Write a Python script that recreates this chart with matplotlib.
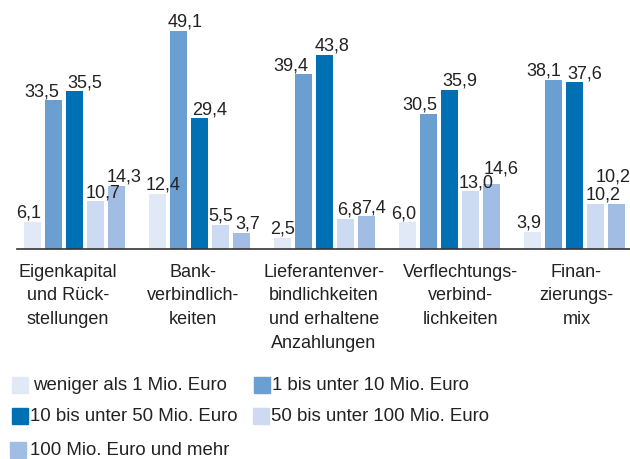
import matplotlib
matplotlib.use("Agg")
import numpy as np
from matplotlib import pyplot as plt
from matplotlib.patches import Rectangle

plt.rcParams['font.family'] = ['Liberation Sans', 'DejaVu Sans']

categories = ["Eigenkapital\nund Rück-\nstellungen",
              "Bank-\nverbindlich-\nkeiten",
              "Lieferantenver-\nbindlichkeiten\nund erhaltene\nAnzahlungen",
              "Verflechtungs-\nverbind-\nlichkeiten",
              "Finan-\nzierungs-\nmix"]

series_names = ["weniger als 1 Mio. Euro",
                "1 bis unter 10 Mio. Euro",
                "10 bis unter 50 Mio. Euro",
                "50 bis unter 100 Mio. Euro",
                "100 Mio. Euro und mehr"]

# one list per size class, one value per category
below_1 = [6.1, 12.4, 2.5, 6.0, 3.9]
from_1_to_10 = [33.5, 49.1, 39.4, 30.5, 38.1]
from_10_to_50 = [35.5, 29.4, 43.8, 35.9, 37.6]
from_50_to_100 = [10.7, 5.5, 6.8, 13.0, 10.2]
above_100 = [14.3, 3.7, 7.4, 14.6, 10.2]

series = [below_1, from_1_to_10, from_10_to_50, from_50_to_100, above_100]
colors = ["#e1e8f6", "#6b9ed1", "#0070b4", "#cddbf2", "#a1bde3"]
text_color = "#222222"

# label nudges in pixels (the original puts the numbers a bit beside the bars)
label_dx = [[-3.5, -11.5, 10.5, 7.5, 7.5],
            [6, 6.5, 10, 0, 6],
            [0, -12.5, 7.5, 4, 7],
            [-3.5, -9, 10, 5.5, 10],
            [-3.5, -9.5, 10, 7.5, -3.5]]
label_dy = [[0, 0, 0, 0, 0],
            [0, 0, 0, 0, 0],
            [0, 0, 0, 0, 0],
            [0, 0, 0, 0, 7],
            [0, 0, 0, 0, 18]]
cat_dx = [-6.5, -6.5, -0.5, 10.5, 2]

fig = plt.figure(figsize=(6.3, 4.6), dpi=100)
W, H = 630, 460
ax = fig.add_axes([17 / W, 210 / H, 613 / W, 222 / H])

pitch = 0.168
width = 0.136
x = np.arange(len(categories))
for k, vals in enumerate(series):
    pos = x + (k - 2) * pitch
    ax.bar(pos, vals, width, color=colors[k], zorder=2)
    for i, v in enumerate(vals):
        ax.annotate(f"{v:.1f}".replace(".", ","), xy=(pos[i], v),
                    xytext=(label_dx[i][k], 5 + label_dy[i][k]),
                    textcoords="offset pixels", ha="center", va="baseline",
                    fontsize=13, color=text_color)

for i, cat in enumerate(categories):
    ax.annotate(cat, xy=(x[i], 0), xytext=(cat_dx[i], -14),
                textcoords="offset pixels", ha="center", va="top",
                fontsize=13, color=text_color, linespacing=1.5)

ax.set_xlim(-0.46, 4.444)
ax.set_ylim(0, 50)
for side in ["top", "right", "left"]:
    ax.spines[side].set_visible(False)
ax.spines["bottom"].set_color("#333333")
ax.spines["bottom"].set_linewidth(1.2)
ax.set_xticks([])
ax.set_yticks([])

# legend drawn by hand: (square left, text left, row centre) in pixels
legend_pos = [(12, 33, 386), (254, 272, 386), (12, 30, 417),
              (253, 271, 417), (10, 30, 451)]
for k, name in enumerate(series_names):
    sx, tx, cy = legend_pos[k]
    fig.patches.append(Rectangle((sx / W, (H - cy - 8) / H), 16 / W, 16 / H,
                                 transform=fig.transFigure, color=colors[k]))
    fig.text(tx / W, (H - cy) / H, name, ha="left", va="center",
             fontsize=13.4, color=text_color)

fig.savefig("out.png", dpi=100)
